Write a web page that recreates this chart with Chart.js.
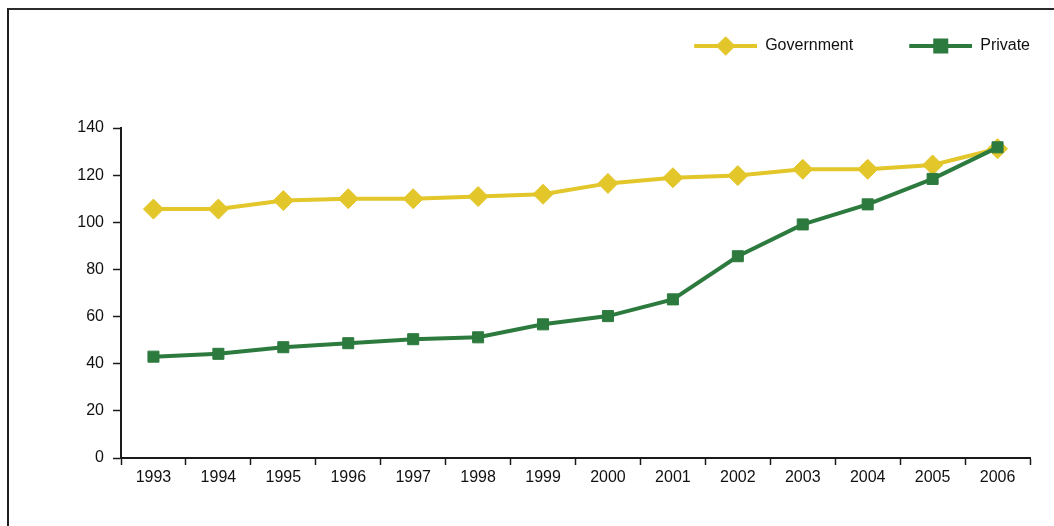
<!DOCTYPE html>
<html>
<head>
<meta charset="utf-8">
<script src="https://cdn.jsdelivr.net/npm/chart.js@4/dist/chart.umd.min.js"></script>
<style>
  html, body { margin: 0; padding: 0; background: #fff; }
  #wrap { position: relative; width: 1054px; height: 526px; }
  #frame {
    position: absolute; left: 7px; top: 8px; right: 0; bottom: 0;
    border-top: 2px solid #2b2b2b; border-left: 2px solid #1e1e1e;
    pointer-events: none;
  }
</style>
</head>
<body>
<div id="wrap">
  <canvas id="trendChart"></canvas>
  <div id="frame"></div>
</div>
<script>
const years = ['1993','1994','1995','1996','1997','1998','1999','2000','2001','2002','2003','2004','2005','2006'];
const government = [105.6, 105.6, 109.2, 110.0, 110.0, 110.9, 111.9, 116.5, 118.9, 119.8, 122.5, 122.5, 124.3, 131.2];
const privateSector = [43.0, 44.2, 47.0, 48.7, 50.4, 51.2, 56.7, 60.2, 67.3, 85.6, 99.1, 107.6, 118.4, 131.8];
const yTicks = [0, 20, 40, 60, 80, 100, 120, 140];

const GOLD = '#e2c62a';
const GREEN = '#2d7a3e';
const FONT = "'Liberation Sans', Arial, sans-serif";

// legend swatch: line with the series marker in the middle
function legendIcon(ds) {
  const c = document.createElement('canvas');
  c.width = 95; c.height = 22;
  const ctx = c.getContext('2d');
  ctx.strokeStyle = ds.borderColor;
  ctx.lineWidth = 4;
  ctx.beginPath();
  ctx.moveTo(32, 11);
  ctx.lineTo(95, 11);
  ctx.stroke();
  ctx.fillStyle = ds.pointBackgroundColor;
  ctx.strokeStyle = ds.pointBackgroundColor;
  Chart.helpers.drawPoint(ctx, {
    pointStyle: ds.pointStyle,
    radius: ds.pointStyle === 'rectRot' ? 7 : 7.8,
    rotation: 0,
    borderWidth: 1
  }, 63.5, 11);
  return c;
}

new Chart(document.getElementById('trendChart'), {
  type: 'line',
  data: {
    labels: years,
    datasets: [
      {
        label: 'Government',
        data: government,
        borderColor: GOLD,
        backgroundColor: GOLD,
        pointBackgroundColor: GOLD,
        pointBorderColor: GOLD,
        borderWidth: 4,
        pointStyle: 'rectRot',
        pointRadius: 10,
        pointBorderWidth: 1,
        tension: 0,
        order: 1
      },
      {
        label: 'Private',
        data: privateSector,
        borderColor: GREEN,
        backgroundColor: GREEN,
        pointBackgroundColor: GREEN,
        pointBorderColor: GREEN,
        borderWidth: 4,
        pointStyle: 'rect',
        pointRadius: 7.8,
        pointBorderWidth: 1,
        tension: 0,
        order: 0
      }
    ]
  },
  options: {
    responsive: true,
    maintainAspectRatio: false,
    animation: false,
    layout: { padding: { top: 14, left: 0, right: 0, bottom: 0 } },
    plugins: {
      tooltip: { enabled: false },
      legend: {
        position: 'top',
        align: 'end',
        labels: {
          usePointStyle: true,
          pointStyleWidth: 95,
          padding: 24,
          color: '#111',
          font: { family: FONT, size: 16 },
          generateLabels: chart => chart.data.datasets.map((ds, i) => ({
            text: ds.label,
            datasetIndex: i,
            pointStyle: legendIcon(ds),
            fillStyle: 'transparent',
            strokeStyle: 'transparent',
            lineWidth: 0,
            fontColor: '#111',
            hidden: false
          }))
        }
      }
    },
    scales: {
      x: {
        position: 'bottom',
        offset: true,
        grid: { display: true, offset: true, drawOnChartArea: false, tickLength: 7, tickColor: '#1a1a1a', tickWidth: 1.5 },
        border: { display: true, color: '#1a1a1a', width: 2 },
        ticks: { color: '#111', padding: 3, maxRotation: 0, autoSkip: false, font: { family: FONT, size: 16 } },
        afterFit: s => { s.height = 68; }
      },
      xTop: {
        type: 'category',
        position: 'top',
        display: true,
        grid: { display: false },
        border: { display: false },
        ticks: { display: false },
        afterFit: s => { s.height = 64; }
      },
      y: {
        position: 'left',
        min: 0,
        max: 140,
        afterBuildTicks: s => { s.ticks = yTicks.map(v => ({ value: v })); },
        grid: { display: true, drawOnChartArea: false, tickLength: 8, tickColor: '#1a1a1a', tickWidth: 1.5 },
        border: { display: true, color: '#1a1a1a', width: 2 },
        ticks: { color: '#111', padding: 9, font: { family: FONT, size: 16 } },
        afterFit: s => { s.width = 121; }
      },
      yRight: {
        type: 'linear',
        position: 'right',
        display: true,
        grid: { display: false },
        border: { display: false },
        ticks: { display: false },
        afterFit: s => { s.width = 24; }
      }
    }
  }
});
</script>
</body>
</html>
